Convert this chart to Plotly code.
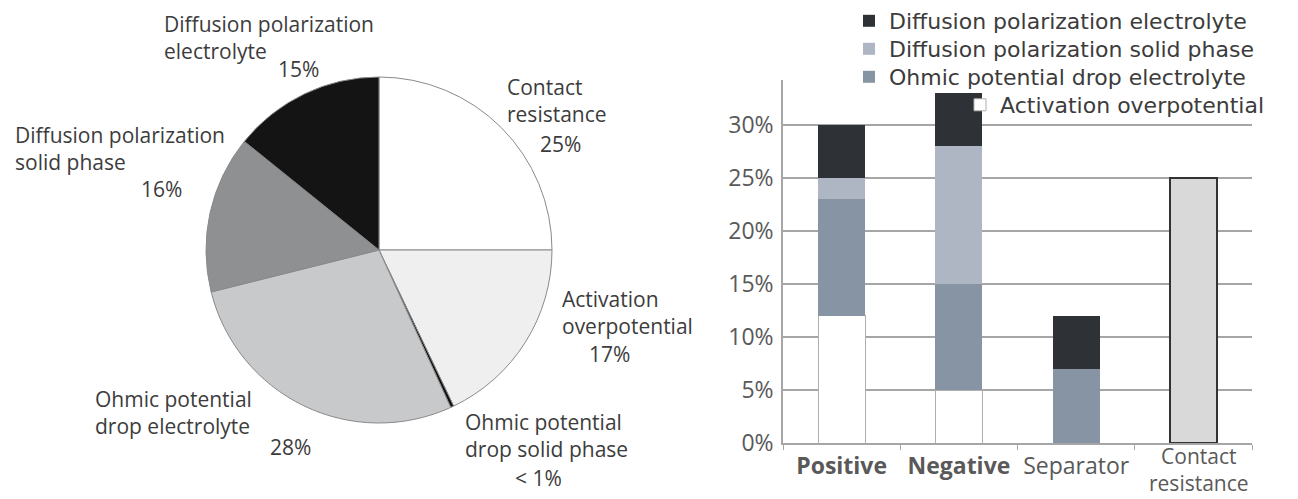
import plotly.graph_objects as go

W, H = 1298, 499

# ---------------- data ----------------
pie_labels = ["Contact resistance", "Activation overpotential",
              "Ohmic potential drop solid phase", "Ohmic potential drop electrolyte",
              "Diffusion polarization solid phase", "Diffusion polarization electrolyte"]
pie_values = [25, 17.9, 0.3, 27.9, 14.7, 14.2]
pie_colors = ["#ffffff", "#efefef", "#111111", "#c8c9cb", "#8f9092", "#141414"]
pie_pct_text = ["25%", "17%", "< 1%", "28%", "16%", "15%"]

categories = ["Positive", "Negative", "Separator", "Contact resistance"]
cat_ticktext = ["<b>Positive</b>", "<b>Negative</b>", "Separator", ""]
last_cat_label = "Contact<br>resistance"
activation = [12, 5, None, None]
ohmic_electrolyte = [11, 10, 7, None]
diff_solid = [2, 13, None, None]
diff_electrolyte = [5, 5, 5, None]
contact = [None, None, None, 25]

FONT = "Open Sans"
TXT = "#3c3c3c"
TICK = "#595959"


def px(x):
    return x / W


def py(y):
    return 1 - y / H


fig = go.Figure()

# ---------------- pie ----------------
fig.add_trace(go.Pie(
    labels=pie_labels, values=pie_values, sort=False, direction="clockwise",
    rotation=0, textinfo="none", showlegend=False,
    marker=dict(colors=pie_colors, line=dict(color="#8a8a8a", width=1)),
    domain=dict(x=[px(206), px(552)], y=[py(423), py(77)]),
    hoverinfo="label+percent",
))

# ---------------- bars ----------------
bw = 0.40
fig.add_trace(go.Bar(name="Activation overpotential", x=categories, y=activation, width=bw,
                     marker=dict(color="#ffffff", line=dict(color="#b0b0b0", width=1)),
                     legend="legend4"))
fig.add_trace(go.Bar(name="Ohmic potential drop electrolyte", x=categories, y=ohmic_electrolyte, width=bw,
                     marker=dict(color="#8694a3", line=dict(width=0)), legend="legend3"))
fig.add_trace(go.Bar(name="Diffusion polarization solid phase", x=categories, y=diff_solid, width=bw,
                     marker=dict(color="#aeb5c3", line=dict(width=0)), legend="legend2"))
fig.add_trace(go.Bar(name="Diffusion polarization electrolyte", x=categories, y=diff_electrolyte, width=bw,
                     marker=dict(color="#2e3236", line=dict(width=0)), legend="legend"))
fig.add_trace(go.Bar(name="Contact resistance", x=categories, y=contact, width=bw, showlegend=False,
                     marker=dict(color="#d9d9d9", line=dict(color="#333333", width=2))))

# ---------------- pie labels ----------------
FS = 21
CEN = 8.1          # baseline -> box-centre offset for one line
LS = 1.3 * FS      # plotly line spacing
name_blocks = [
    # (text, x_left, first-line baseline)
    ("Diffusion polarization<br>electrolyte", 162, 32),
    ("Contact<br>resistance", 505, 95),
    ("Diffusion polarization<br>solid phase", 13, 143),
    ("Activation<br>overpotential", 560, 307),
    ("Ohmic potential<br>drop electrolyte", 93, 407),
    ("Ohmic potential<br>drop solid phase", 463, 430),
]
for t, x, b in name_blocks:
    fig.add_annotation(text=t, x=px(x), y=py(b - CEN + LS / 2), xref="paper", yref="paper",
                       xanchor="left", yanchor="middle", align="left", showarrow=False,
                       font=dict(family=FONT, size=FS, color=TXT))

pct_pos = [(560, 152), (609, 362), (538, 486), (290, 455), (161, 197), (298, 77)]
for t, (x, b) in zip(pie_pct_text, pct_pos):
    fig.add_annotation(text=t, x=px(x), y=py(b - CEN), xref="paper", yref="paper",
                       xanchor="center", yanchor="middle", showarrow=False,
                       font=dict(family=FONT, size=FS, color=TXT))

# two-line label of the last category
fig.add_annotation(text=last_cat_label, x=px(1199), y=0, xref="paper", yref="paper",
                   xanchor="center", yanchor="bottom", align="center", showarrow=False,
                   font=dict(family=FONT, size=21, color=TICK))

# ---------------- layout ----------------
LFONT = dict(family="DejaVu Sans", size=22, color="#3c3c3c")


def leg(x, yc):
    return dict(x=px(x), y=py(yc), xanchor="left", yanchor="middle",
                bgcolor="rgba(0,0,0,0)", font=LFONT)


fig.update_layout(
    width=W, height=H, margin=dict(l=0, r=0, t=0, b=0, autoexpand=False),
    paper_bgcolor="white", plot_bgcolor="white",
    barmode="stack",
    font=dict(family=FONT, size=22, color=TICK),
    xaxis=dict(domain=[px(783), px(1252)], type="category",
               categoryorder="array", categoryarray=categories,
               tickmode="array", tickvals=categories, ticktext=cat_ticktext,
               tickson="boundaries", ticks="outside", ticklen=5, tickcolor="#a6a6a6",
               showline=True, linecolor="#a6a6a6", linewidth=1.5, showgrid=False,
               tickangle=0, automargin=False, ticklabelstandoff=2,
               tickfont=dict(family=FONT, size=23, color=TICK)),
    yaxis=dict(domain=[py(443), py(80)], range=[0, 34.25], dtick=5, ticksuffix="%",
               showgrid=True, gridcolor="#a6a6a6", gridwidth=1.5,
               showline=True, linecolor="#a6a6a6", linewidth=1.5, zeroline=False,
               ticks="", ticklabelstandoff=3, automargin=False,
               tickfont=dict(family=FONT, size=23, color=TICK)),
    legend=leg(849, 21),
    legend2=leg(849, 49),
    legend3=leg(849, 77),
    legend4=leg(960, 105),
)

fig.write_html("out.html", config={"displayModeBar": False},
               post_script="document.body.style.margin='0';document.body.style.overflow='hidden';")
